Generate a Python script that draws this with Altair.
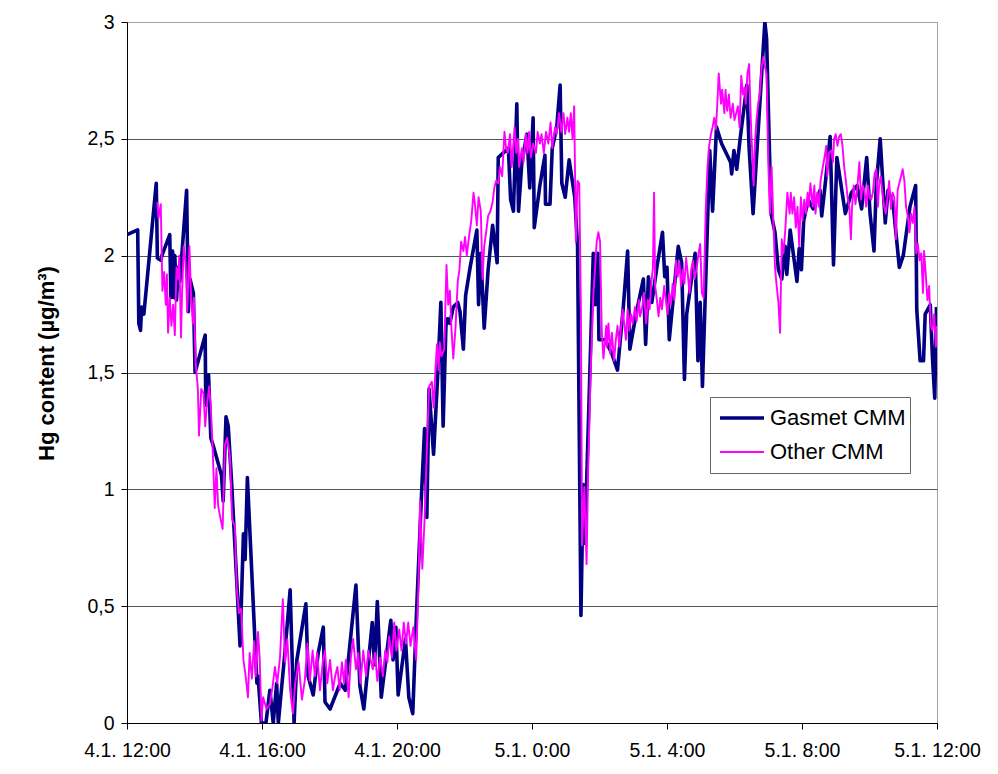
import altair as alt
import pandas as pd

# ---------------- data (minutes after 4.1. 12:00, Hg content in µg/m³) ----------------
gasmet_min = [0, 19, 21, 24, 26, 30, 52, 54, 60, 62, 76, 78, 81, 84, 85, 88, 91, 94, 106, 109,
              112, 118, 121, 139, 140, 145, 149, 153, 168, 171, 176, 180, 186, 201, 207, 210, 214, 231, 233, 239,
              247, 254, 260, 266, 269, 281, 290, 297, 302, 318, 322, 331, 340, 349, 352, 361, 379, 388, 407, 414,
              421, 436, 440, 445, 452, 469, 473, 478, 482, 495, 501, 508, 515, 524, 529, 533, 537, 545, 552, 558,
              562, 567, 570, 574, 580, 588, 592, 598, 602, 610, 622, 625, 629, 635, 642, 650, 658, 660, 669, 678,
              682, 687, 693, 696, 702, 711, 716, 722, 724, 734, 743, 744, 752, 756, 764, 770, 773, 779, 786, 796,
              801, 807, 811, 814, 829, 832, 837, 839, 850, 862, 872, 882, 890, 894, 905, 918, 922, 927, 933, 942,
              952, 956, 960, 964, 980, 986, 991, 995, 1010, 1015, 1019, 1023, 1036, 1041, 1048, 1057, 1073, 1075, 1079, 1084,
              1090, 1102, 1106, 1113, 1134, 1137, 1145, 1152, 1158, 1164, 1170, 1173, 1179, 1191, 1195, 1199, 1203, 1211, 1220, 1232,
              1235, 1241, 1250, 1256, 1262, 1277, 1288, 1298, 1306, 1315, 1321, 1328, 1332, 1339, 1348, 1353, 1362, 1373, 1380, 1392,
              1402, 1404, 1410, 1416, 1419, 1428, 1432, 1436, 1439]
gasmet_val = [2.09, 2.11, 1.71, 1.68, 1.78, 1.75, 2.31, 1.99, 1.98, 2.00, 2.09, 1.82, 2.02, 1.82, 2.00, 1.81, 1.95, 1.89, 2.28, 1.76,
              1.90, 1.84, 1.50, 1.66, 1.36, 1.49, 1.22, 1.19, 1.06, 0.95, 1.31, 1.27, 1.03, 0.33, 0.81, 0.70, 1.05, 0.17, 0.20, 0.00,
              0.00, 0.14, 0.00, 0.17, 0.00, 0.31, 0.57, 0.00, 0.27, 0.51, 0.20, 0.12, 0.30, 0.41, 0.09, 0.06, 0.17, 0.14, 0.59, 0.16,
              0.06, 0.43, 0.25, 0.52, 0.11, 0.44, 0.27, 0.41, 0.12, 0.36, 0.11, 0.04, 0.49, 1.00, 1.26, 0.88, 1.43, 1.15, 1.47, 1.80,
              1.27, 1.70, 1.73, 1.71, 1.78, 1.80, 1.76, 1.60, 1.83, 1.95, 2.11, 1.79, 2.01, 1.69, 1.94, 2.13, 1.97, 2.42, 2.44, 2.46,
              2.24, 2.19, 2.65, 2.19, 2.40, 2.52, 2.29, 2.59, 2.12, 2.30, 2.43, 2.22, 2.22, 2.46, 2.55, 2.73, 2.31, 2.25, 2.41, 2.25,
              2.04, 0.46, 1.02, 0.77, 2.01, 1.79, 2.01, 1.64, 1.64, 1.58, 1.51, 1.77, 2.02, 1.60, 1.75, 1.90, 1.62, 1.91, 1.80, 1.95,
              2.10, 1.91, 1.95, 1.64, 2.04, 1.97, 1.47, 1.75, 2.01, 1.55, 1.80, 1.44, 2.45, 2.19, 2.55, 2.48, 2.40, 2.35, 2.45, 2.37,
              2.50, 2.73, 2.46, 2.18, 3.00, 2.93, 2.18, 2.10, 1.94, 1.90, 2.04, 1.92, 2.11, 1.89, 2.03, 1.94, 2.15, 2.24, 2.20, 2.28,
              2.17, 2.30, 2.51, 1.96, 2.42, 2.18, 2.27, 2.30, 2.20, 2.42, 2.18, 2.02, 2.30, 2.50, 2.14, 2.28, 2.22, 1.95, 2.00, 2.21,
              2.30, 1.77, 1.55, 1.55, 1.75, 1.79, 1.56, 1.39, 1.78]

other_min = [54, 56, 60, 63, 66, 69, 71, 73, 76, 79, 82, 85, 88, 91, 93, 96, 98, 101, 104, 107,
             111, 114, 117, 119, 122, 126, 128, 132, 136, 139, 142, 146, 149, 152, 156, 159, 162, 165, 170, 174,
             178, 183, 187, 192, 195, 199, 203, 207, 211, 215, 218, 222, 226, 229, 233, 236, 239, 242, 248, 254,
             259, 263, 267, 272, 277, 281, 285, 290, 295, 299, 305, 311, 316, 321, 325, 330, 334, 338, 343, 348,
             352, 356, 361, 366, 370, 374, 378, 382, 386, 389, 394, 398, 402, 407, 411, 415, 420, 425, 429, 433,
             437, 441, 445, 450, 455, 459, 463, 466, 471, 475, 479, 484, 488, 492, 496, 500, 504, 509, 514, 518,
             521, 525, 529, 533, 537, 542, 545, 549, 551, 554, 556, 559, 564, 568, 571, 574, 577, 580, 584, 588,
             591, 594, 598, 601, 604, 608, 612, 616, 619, 622, 625, 629, 632, 635, 639, 642, 646, 650, 653, 656,
             660, 663, 667, 671, 674, 677, 681, 684, 689, 692, 695, 697, 702, 705, 709, 712, 715, 718, 722, 727,
             730, 734, 737, 741, 745, 749, 753, 756, 761, 764, 768, 772, 776, 779, 783, 786, 789, 792, 795, 798,
             801, 804, 807, 809, 813, 817, 820, 824, 829, 832, 835, 838, 841, 844, 847, 852, 853, 856, 859, 862,
             866, 869, 872, 875, 878, 881, 884, 887, 890, 893, 896, 899, 903, 906, 910, 912, 916, 919, 923, 926,
             929, 932, 935, 937, 939, 942, 945, 948, 951, 955, 958, 961, 964, 967, 970, 973, 976, 979, 982, 985,
             988, 991, 994, 997, 1000, 1003, 1006, 1009, 1013, 1016, 1019, 1022, 1025, 1029, 1032, 1035, 1038, 1041, 1044, 1047,
             1050, 1052, 1056, 1058, 1062, 1064, 1067, 1070, 1073, 1077, 1080, 1083, 1086, 1089, 1092, 1095, 1098, 1100, 1103, 1106,
             1109, 1114, 1116, 1119, 1122, 1125, 1128, 1131, 1134, 1137, 1140, 1143, 1146, 1149, 1152, 1155, 1158, 1161, 1164, 1167,
             1170, 1174, 1178, 1180, 1183, 1186, 1189, 1192, 1195, 1198, 1201, 1204, 1207, 1210, 1212, 1215, 1219, 1222, 1224, 1227,
             1230, 1233, 1237, 1240, 1243, 1245, 1248, 1252, 1255, 1257, 1260, 1263, 1266, 1269, 1272, 1275, 1278, 1281, 1284, 1287,
             1289, 1292, 1295, 1298, 1302, 1305, 1308, 1311, 1314, 1317, 1320, 1323, 1326, 1329, 1332, 1335, 1337, 1340, 1343, 1346,
             1349, 1352, 1355, 1358, 1361, 1364, 1367, 1370, 1373, 1376, 1379, 1382, 1385, 1388, 1391, 1394, 1397, 1400, 1403, 1406,
             1409, 1412, 1415, 1417, 1420, 1423, 1426, 1429, 1432, 1435, 1438, 1440]
other_val = [2.23, 2.16, 2.22, 1.85, 1.93, 1.79, 1.92, 1.67, 1.82, 1.70, 1.79, 1.66, 1.95, 1.90, 2.00, 1.65, 1.85, 2.04, 1.98, 1.76,
             2.04, 1.82, 1.71, 1.82, 1.54, 1.43, 1.23, 1.43, 1.41, 1.27, 1.36, 1.44, 1.35, 1.19, 0.92, 1.09, 0.93, 0.89, 0.83, 1.19,
             1.22, 1.14, 0.87, 0.84, 0.58, 0.47, 0.49, 0.27, 0.20, 0.11, 0.30, 0.19, 0.35, 0.20, 0.39, 0.27, 0.01, 0.11, 0.06, 0.08,
             0.16, 0.24, 0.17, 0.28, 0.53, 0.26, 0.36, 0.14, 0.04, 0.17, 0.26, 0.10, 0.18, 0.34, 0.18, 0.31, 0.20, 0.30, 0.14, 0.26,
             0.31, 0.17, 0.27, 0.14, 0.20, 0.24, 0.14, 0.26, 0.17, 0.27, 0.11, 0.28, 0.36, 0.23, 0.30, 0.17, 0.31, 0.20, 0.31, 0.27,
             0.23, 0.30, 0.18, 0.28, 0.20, 0.31, 0.26, 0.37, 0.28, 0.43, 0.31, 0.40, 0.31, 0.43, 0.34, 0.43, 0.33, 0.41, 0.27, 0.57,
             0.95, 0.66, 0.87, 1.16, 1.44, 1.46, 1.35, 1.54, 1.62, 1.51, 1.63, 1.57, 1.60, 1.96, 1.79, 1.85, 1.68, 1.56, 1.69, 1.89,
             1.94, 2.06, 2.02, 2.08, 2.00, 2.08, 2.15, 2.27, 2.21, 2.13, 2.25, 2.19, 1.90, 2.04, 2.11, 2.17, 2.19, 2.23, 2.29, 2.32,
             2.31, 2.38, 2.34, 2.53, 2.46, 2.44, 2.52, 2.38, 2.55, 2.44, 2.50, 2.38, 2.46, 2.40, 2.52, 2.44, 2.53, 2.42, 2.48, 2.44,
             2.53, 2.48, 2.52, 2.44, 2.53, 2.48, 2.57, 2.46, 2.55, 2.52, 2.61, 2.53, 2.61, 2.52, 2.59, 2.53, 2.61, 2.50, 2.64, 2.06,
             2.32, 2.31, 1.77, 0.76, 1.01, 0.68, 1.10, 1.48, 1.83, 1.94, 2.06, 2.10, 2.06, 1.68, 1.56, 1.70, 1.61, 1.71, 1.58, 1.67,
             1.55, 1.64, 1.70, 1.61, 1.68, 1.77, 1.71, 1.64, 1.77, 1.68, 1.75, 1.71, 1.78, 1.72, 1.81, 1.74, 1.78, 1.84, 1.71, 1.81,
             1.77, 1.88, 1.95, 2.27, 1.87, 1.81, 1.74, 1.82, 1.77, 1.87, 1.81, 1.75, 1.84, 1.79, 1.88, 1.81, 1.98, 1.91, 1.97, 1.87,
             1.94, 1.88, 1.99, 1.92, 1.84, 1.94, 1.98, 1.90, 1.95, 2.01, 2.05, 1.84, 1.82, 2.21, 2.38, 2.47, 2.52, 2.55, 2.59, 2.54,
             2.68, 2.78, 2.65, 2.71, 2.61, 2.71, 2.62, 2.69, 2.59, 2.65, 2.58, 2.61, 2.64, 2.55, 2.77, 2.69, 2.72, 2.65, 2.78, 2.82,
             2.58, 2.30, 2.47, 2.58, 2.65, 2.69, 2.80, 2.85, 2.81, 2.78, 2.40, 2.18, 2.38, 2.15, 1.95, 1.87, 1.80, 1.67, 2.07, 2.01,
             2.10, 2.27, 2.18, 2.27, 2.18, 2.25, 2.12, 2.21, 2.04, 2.25, 2.15, 2.24, 2.18, 2.27, 2.21, 2.31, 2.21, 2.30, 2.18, 2.27,
             2.21, 2.32, 2.38, 2.42, 2.47, 2.34, 2.44, 2.45, 2.40, 2.50, 2.52, 2.47, 2.51, 2.52, 2.47, 2.38, 2.32, 2.25, 2.21, 2.07,
             2.21, 2.30, 2.22, 2.28, 2.40, 2.24, 2.30, 2.28, 2.21, 2.30, 2.25, 2.24, 2.27, 2.35, 2.37, 2.21, 2.30, 2.34, 2.27, 2.21,
             2.18, 2.25, 2.32, 2.20, 2.27, 2.25, 2.07, 2.28, 2.31, 2.34, 2.37, 2.32, 2.21, 2.17, 2.10, 2.18, 2.14, 2.21, 2.01, 2.05,
             1.98, 2.01, 1.84, 2.02, 1.92, 1.81, 1.87, 1.70, 1.68, 1.75, 1.61, 1.70]

series_names = ["Gasmet CMM", "Other CMM"]
series_colors = ["#000080", "#FF00FF"]
series_widths = [3.6, 1.9]
tick_hours = [0, 4, 8, 12, 16, 20, 24]
y_ticks = [0, 0.5, 1, 1.5, 2, 2.5, 3]

start = pd.Timestamp("2011-01-04 12:00:00")
FONT = "Liberation Sans"


def frame(mins, vals, name):
    return pd.DataFrame({
        "time": [start + pd.Timedelta(minutes=m) for m in mins],
        "value": vals,
        "series": name,
    })


def dt(h):
    t = start + pd.Timedelta(hours=h)
    return alt.DateTime(year=t.year, month=t.month, date=t.day, hours=t.hour, minutes=t.minute)


x_enc = alt.X(
    "time:T",
    scale=alt.Scale(domain=[dt(tick_hours[0]), dt(tick_hours[-1])]),
    axis=alt.Axis(values=[dt(h) for h in tick_hours], format="%-d.%-m. %-H:%M",
                  title=None, grid=False, domainColor="#000000", tickColor="#000000",
                  tickSize=6, labelPadding=12, labelFont=FONT, labelFontSize=19.5,
                  labelColor="#000000", labelOverlap=False, labelFlush=False),
)
y_enc = alt.Y(
    "value:Q",
    scale=alt.Scale(domain=[0, 3], nice=False, zero=True),
    axis=alt.Axis(values=y_ticks, format="~g", labelExpr="replace(datum.label, '.', ',')",
                  title="Hg content (µg/m³)", titleFont=FONT, titleFontSize=22, titleFontWeight="bold",
                  titleColor="#000000", titleX=-81, titleY=341, titleBaseline="middle",
                  grid=True,
                  gridColor={"condition": {"test": "datum.value === 3", "value": "#a0a0a0"}, "value": "#555555"},
                  gridWidth=1, domainColor="#000000", tickColor="#000000", tickSize=6,
                  labelPadding=7, labelFont=FONT, labelFontSize=19.5, labelColor="#000000"),
)
legend = alt.Legend(orient="none", legendX=583, legendY=375, title=None,
                    symbolType="stroke", symbolSize=1936, clipHeight=34, rowPadding=0,
                    labelFont=FONT, labelFontSize=22, labelColor="#000000", labelOffset=4,
                    padding=4, symbolOffset=4, fillColor="#ffffff", strokeColor="#666666")
color_enc = alt.Color("series:N", scale=alt.Scale(domain=series_names, range=series_colors), legend=legend)
width_enc = alt.StrokeWidth("series:N", scale=alt.Scale(type="point", domain=series_names, range=series_widths),
                            legend=legend)

gas = alt.Chart(frame(gasmet_min, gasmet_val, series_names[0])).mark_line(clip=True, strokeJoin="round").encode(
    x=x_enc, y=y_enc, color=color_enc, strokeWidth=width_enc)
other = alt.Chart(frame(other_min, other_val, series_names[1])).mark_line(clip=True, strokeJoin="round").encode(
    x=x_enc, y=y_enc, color=color_enc, strokeWidth=width_enc)

chart = alt.layer(gas, other).properties(
    width=810, height=701,
    autosize=alt.AutoSizeParams(type="none"),
    padding={"left": 119, "top": 14, "right": 45, "bottom": 40},
    background="#ffffff",
).configure_view(stroke="#a0a0a0", strokeWidth=1)

chart.save("out.html", embed_options={"renderer": "svg", "actions": False})
